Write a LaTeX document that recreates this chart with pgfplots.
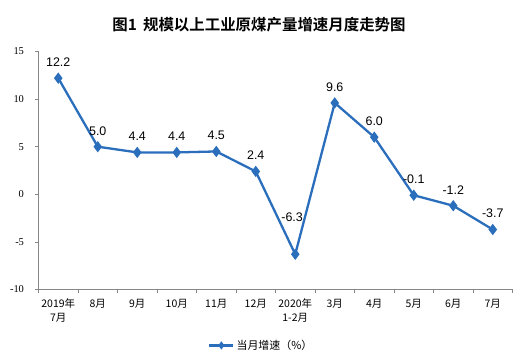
\documentclass[border=0pt]{standalone}
\usepackage{pgfplots}
\pgfplotsset{compat=1.18}
\usepackage{fontspec}
\setmainfont{Liberation Sans}
\newfontfamily\cjk{Noto Sans CJK SC}
\newfontfamily\cjkb{Noto Sans CJK SC Bold}
\newfontfamily\yfont{Liberation Serif}
\definecolor{lineblue}{RGB}{42,110,188}
\definecolor{axgray}{RGB}{134,134,134}
\begin{document}
\begin{tikzpicture}[x=1bp,y=1bp]
\useasboundingbox (0,0) rectangle (515,362);
\node[font=\cjkb\fontsize{15.5}{17}\selectfont] at (259,337) {图1\hspace{0.4em}规模以上工业原煤产量增速月度走势图};
\begin{axis}[
  at={(38.5bp,72.5bp)}, anchor=south west,
  scale only axis, width=474bp, height=238bp,
  xmin=-0.5, xmax=11.5, ymin=-10, ymax=15,
  axis x line*=bottom, axis y line*=left,
  axis line style={axgray, line width=0.8bp},
  ytick={-10,-5,...,15},
  yticklabel style={font=\yfont\fontsize{10.5}{12}\selectfont, xshift=-7bp},
  ytick style={axgray, line width=0.8bp},
  y tick label style={/pgf/number format/assume math mode=true},
  xtick={0,...,11},
  major x tick style={draw=none},
  minor xtick={-0.5,0.5,...,11.5},
  minor x tick style={axgray, line width=0.8bp},
  xticklabels={{2019年\\7月},8月,9月,10月,11月,12月,{2020年\\1-2月},3月,4月,5月,6月,7月},
  xticklabel style={font=\cjk\fontsize{10.5}{14}\selectfont, align=center, yshift=-2bp},
  tick align=outside,
  minor tick length=3.5bp, major tick length=4bp,
  clip=false,
  legend style={at={(0.47,-0.235)}, anchor=center, draw=none, font=\cjk\fontsize{11}{13}\selectfont, legend columns=1},
  legend cell align=left,
  legend image code/.code={\draw[#1, mark=none] (0cm,0cm) -- (0.85cm,0cm); \draw[#1, only marks, mark size=2.2bp] plot coordinates {(0.425cm,0cm)};},
]
\addplot[color=lineblue, line width=2.3bp, mark=diamond*, mark size=3.8bp, mark options={solid, fill=lineblue}]
  table {
x y
0 12.2
1 5.0
2 4.4
3 4.4
4 4.5
5 2.4
6 -6.3
7 9.6
8 6.0
9 -0.1
10 -1.2
11 -3.7
};
\addlegendentry{当月增速（\%）}
\addplot[forget plot, draw=none, mark=none, nodes near coords, point meta=explicit symbolic,
  every node near coord/.append style={font=\fontsize{12.5}{14}\selectfont, black, yshift=8bp}]
  table[meta=lab] {
x y lab
0 12.2 12.2
1 5.0 5.0
2 4.4 4.4
3 4.4 4.4
4 4.5 4.5
5 2.4 2.4
7 9.6 9.6
8 6.0 6.0
9 -0.1 -0.1
10 -1.2 -1.2
11 -3.7 -3.7
};
\node[font=\fontsize{12.5}{14}\selectfont, black] at (axis cs:5.92,-6.3) [yshift=37bp] {-6.3};
\end{axis}
\end{tikzpicture}
\end{document}
